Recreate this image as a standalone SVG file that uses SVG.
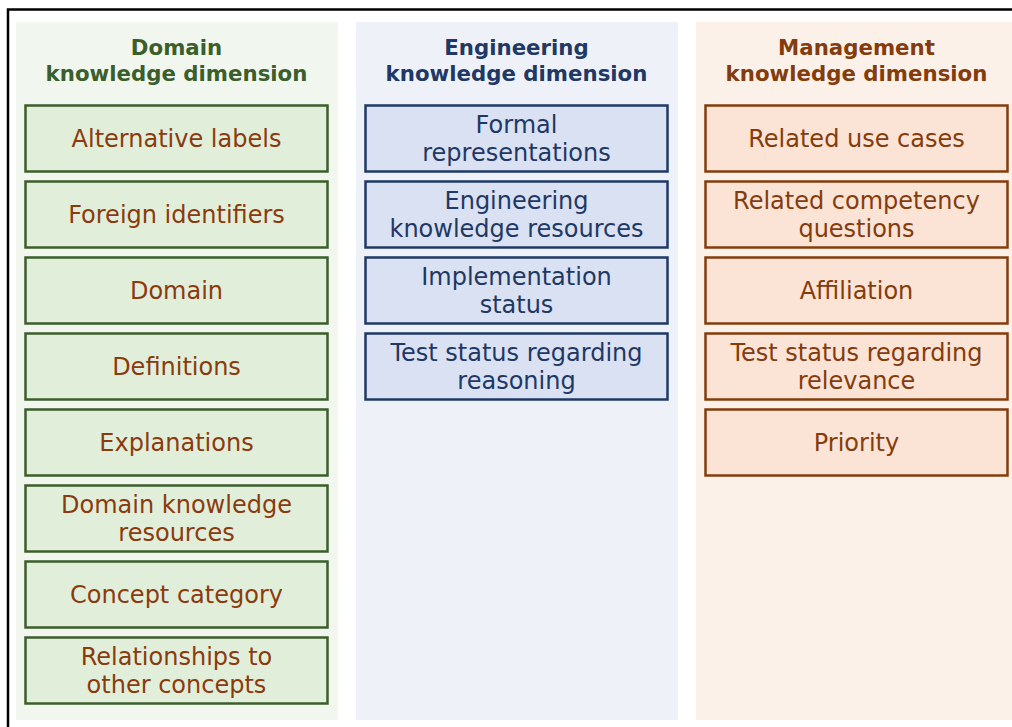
<svg xmlns="http://www.w3.org/2000/svg" width="1012" height="727" viewBox="0 0 1012 727">
<style>
text{font-family:"DejaVu Sans","Liberation Sans",sans-serif;text-anchor:middle}
.t{font-size:21.3px;font-weight:bold}
.i{font-size:24px}
.g rect.b{fill:#e1efda;stroke:#3b5e2b;stroke-width:2.5}
.g .i{fill:#8b3a0e}
.g .t{fill:#3b5e2b}
.e rect.b{fill:#d9e1f2;stroke:#1f3864;stroke-width:2.5}
.e .i,.e .t{fill:#1f3864}
.m rect.b{fill:#fbe3d6;stroke:#843c0c;stroke-width:2.5}
.m .i,.m .t{fill:#843c0c}
</style>
<rect x="0" y="0" width="1012" height="727" fill="#ffffff"/>
<rect x="8" y="9.5" width="1020" height="730" fill="none" stroke="#000" stroke-width="2.5"/>
<g id="col-domain" class="g">
<rect x="16" y="22" width="322" height="698" fill="#f1f7ef"/>
<text class="t" x="176.5" y="54.5">Domain</text>
<text class="t" x="176.5" y="80.5">knowledge dimension</text>
<g id="n-alt"><rect class="b" x="25.5" y="105.5" width="302" height="66"/><text class="i" x="176.5" y="147">Alternative labels</text></g>
<g id="n-foreign"><rect class="b" x="25.5" y="181.5" width="302" height="66"/><text class="i" x="176.5" y="223">Foreign identifiers</text></g>
<g id="n-domain"><rect class="b" x="25.5" y="257.5" width="302" height="66"/><text class="i" x="176.5" y="299">Domain</text></g>
<g id="n-def"><rect class="b" x="25.5" y="333.5" width="302" height="66"/><text class="i" x="176.5" y="375">Definitions</text></g>
<g id="n-expl"><rect class="b" x="25.5" y="409.5" width="302" height="66"/><text class="i" x="176.5" y="451">Explanations</text></g>
<g id="n-dkr"><rect class="b" x="25.5" y="485.5" width="302" height="66"/><text class="i" x="176.5" y="512.5">Domain knowledge</text><text class="i" x="176.5" y="540.5">resources</text></g>
<g id="n-cat"><rect class="b" x="25.5" y="561.5" width="302" height="66"/><text class="i" x="176.5" y="603">Concept category</text></g>
<g id="n-rel"><rect class="b" x="25.5" y="637.5" width="302" height="66"/><text class="i" x="176.5" y="664.5">Relationships to</text><text class="i" x="176.5" y="692.5">other concepts</text></g>
</g>
<g id="col-eng" class="e">
<rect x="356" y="22" width="322" height="698" fill="#eef2f8"/>
<text class="t" x="516.5" y="54.5">Engineering</text>
<text class="t" x="516.5" y="80.5">knowledge dimension</text>
<g id="n-formal"><rect class="b" x="365.5" y="105.5" width="302" height="66"/><text class="i" x="516.5" y="132.5">Formal</text><text class="i" x="516.5" y="160.5">representations</text></g>
<g id="n-ekr"><rect class="b" x="365.5" y="181.5" width="302" height="66"/><text class="i" x="516.5" y="208.5">Engineering</text><text class="i" x="516.5" y="236.5">knowledge resources</text></g>
<g id="n-impl"><rect class="b" x="365.5" y="257.5" width="302" height="66"/><text class="i" x="516.5" y="284.5">Implementation</text><text class="i" x="516.5" y="312.5">status</text></g>
<g id="n-testr"><rect class="b" x="365.5" y="333.5" width="302" height="66"/><text class="i" x="516.5" y="360.5">Test status regarding</text><text class="i" x="516.5" y="388.5">reasoning</text></g>
</g>
<g id="col-mgmt" class="m">
<rect x="696" y="22" width="330" height="698" fill="#fcf1e9"/>
<text class="t" x="856.5" y="54.5">Management</text>
<text class="t" x="856.5" y="80.5">knowledge dimension</text>
<g id="n-usecases"><rect class="b" x="705.5" y="105.5" width="302" height="66"/><text class="i" x="856.5" y="147">Related use cases</text></g>
<g id="n-cq"><rect class="b" x="705.5" y="181.5" width="302" height="66"/><text class="i" x="856.5" y="208.5">Related competency</text><text class="i" x="856.5" y="236.5">questions</text></g>
<g id="n-aff"><rect class="b" x="705.5" y="257.5" width="302" height="66"/><text class="i" x="856.5" y="299">Affiliation</text></g>
<g id="n-testrel"><rect class="b" x="705.5" y="333.5" width="302" height="66"/><text class="i" x="856.5" y="360.5">Test status regarding</text><text class="i" x="856.5" y="388.5">relevance</text></g>
<g id="n-prio"><rect class="b" x="705.5" y="409.5" width="302" height="66"/><text class="i" x="856.5" y="451">Priority</text></g>
</g>
<g id="connectors"/>
</svg>
